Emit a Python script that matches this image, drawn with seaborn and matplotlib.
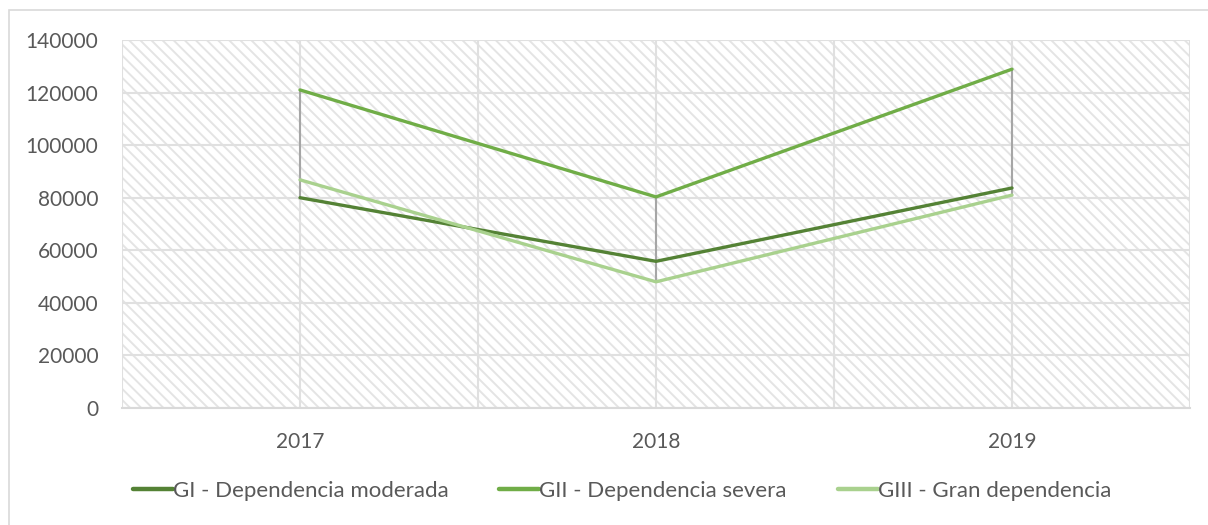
import pandas as pd
import numpy as np
import matplotlib.pyplot as plt
import seaborn as sns
from matplotlib.patches import Rectangle

# Data
years = [2017, 2018, 2019]
gi_values = [80000, 55800, 83700]
gii_values = [121000, 80300, 128900]
giii_values = [86800, 48000, 81000]
series_names = ["GI - Dependencia moderada", "GII - Dependencia severa", "GIII - Gran dependencia"]
series_colors = ["#548235", "#70AD47", "#A9D18E"]

# long form table for seaborn
df = pd.DataFrame({
    "year": years * 3,
    "value": gi_values + gii_values + giii_values,
    "serie": [series_names[0]] * 3 + [series_names[1]] * 3 + [series_names[2]] * 3,
})

sns.set_style("white")
plt.rcParams["font.family"] = ["Lato", "DejaVu Sans"]
plt.rcParams["hatch.linewidth"] = 1.4

fig = plt.figure(figsize=(12.08, 5.25), dpi=100)
ax = fig.add_axes([122 / 1208, 1 - 408 / 525, (1190 - 122) / 1208, (408 - 40) / 525])

# outer chart border
fig.patches.append(Rectangle((9 / 1208, -0.1), 1.2, 1 - 10 / 525 + 0.1, transform=fig.transFigure,
                             facecolor="none", edgecolor="#D9D9D9", linewidth=1.2))

# hatched plot area
ax.add_patch(Rectangle((0, 0), 1, 1, transform=ax.transAxes, facecolor="white",
                       edgecolor="#E4E4E4", linewidth=0, hatch="\\\\\\", zorder=0))

# high-low lines
hi = np.max([gi_values, gii_values, giii_values], axis=0)
lo = np.min([gi_values, gii_values, giii_values], axis=0)
ax.vlines(years, lo, hi, color="#A6A6A6", linewidth=1.5, zorder=2)

sns.lineplot(data=df, x="year", y="value", hue="serie", palette=series_colors,
             linewidth=2.4, ax=ax, zorder=3)

ax.set_xlim(2016.5, 2019.5)
ax.set_ylim(0, 140000)
ax.set_xticks(years)
ax.set_xticks([2016.5, 2017.5, 2018.5, 2019.5], minor=True)
ax.set_yticks(np.arange(0, 140001, 20000))
ax.grid(True, which="both", color="#E0E0E0", linewidth=1.5, zorder=1)
ax.set_axisbelow(True)
ax.tick_params(axis="both", which="both", length=0, labelsize=15, labelcolor="#595959")
ax.tick_params(axis="x", pad=17)
ax.tick_params(axis="y", pad=17)
ax.set_xlabel("")
ax.set_ylabel("")
for s in ["top", "right", "left"]:
    ax.spines[s].set_visible(False)
ax.spines["bottom"].set_color("#D9D9D9")
ax.spines["bottom"].set_linewidth(1.5)

handles, labels = ax.get_legend_handles_labels()
leg = ax.legend(handles, labels, loc="center", bbox_to_anchor=(622 / 1208, (525 - 491) / 525),
                bbox_transform=fig.transFigure, ncol=3, frameon=False, fontsize=16,
                labelcolor="#595959", handlelength=1.8, handletextpad=0.0, columnspacing=2.3)
for line in leg.get_lines():
    line.set_linewidth(3.2)

fig.savefig("out.png", dpi=100)
